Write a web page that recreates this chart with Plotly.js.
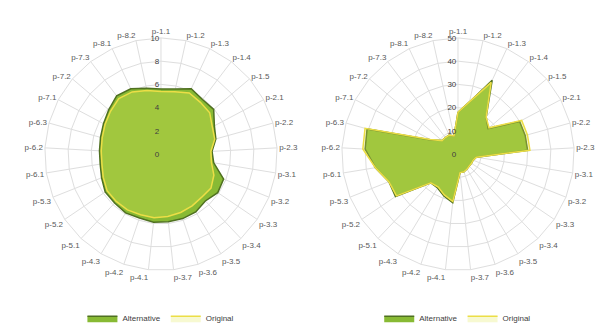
<!DOCTYPE html>
<html>
<head>
<meta charset="utf-8">
<script src="https://cdn.plot.ly/plotly-3.0.1.min.js"></script>
<style>html,body{margin:0;padding:0;background:#fff;}#chart{width:596px;height:333px;}</style>
</head>
<body>
<div id="chart"></div>
<script>
const categories = ['p-1.1','p-1.2','p-1.3','p-1.4','p-1.5','p-2.1','p-2.2','p-2.3','p-3.1','p-3.2','p-3.3','p-3.4','p-3.5','p-3.6','p-3.7','p-4.1','p-4.2','p-4.3','p-5.1','p-5.2','p-5.3','p-6.1','p-6.2','p-6.3','p-7.1','p-7.2','p-7.3','p-8.1','p-8.2'];

const leftAlternative = [5.6, 5.75, 6.2, 5.9, 5.95, 5.2, 4.9, 4.4, 4.6, 5.8, 5.9, 5.55, 5.8, 5.85, 5.85, 5.9, 5.8, 5.9, 5.8, 5.8, 5.5, 5.3, 5.3, 5.4, 5.6, 5.9, 6.3, 6.2, 5.8];
const leftOriginal    = [5.4, 5.5, 5.8, 5.6, 5.5, 5.0, 4.8, 4.3, 4.4, 4.9, 5.2, 5.1, 5.2, 5.3, 5.4, 5.5, 5.5, 5.6, 5.6, 5.6, 5.35, 5.15, 5.15, 5.25, 5.45, 5.7, 6.0, 5.9, 5.6];

const rightAlternative = [18, 23, 35, 20, 17, 30, 30, 30, 8, 7, 7, 7, 7.5, 8, 8, 21, 19, 17, 17, 32.5, 32, 36, 40, 40.6, 13, 9, 9, 9, 8];
const rightOriginal    = [18, 23, 34, 20, 17.5, 31, 31, 31, 8, 7, 7, 7, 7.5, 8, 8, 20.5, 18.5, 16.5, 17, 32, 32, 36, 41, 41.5, 13.5, 9, 9, 9, 8];

const seriesNames = ['Alternative', 'Original'];
const leftTicks = [0, 2, 4, 6, 8, 10];
const rightTicks = [0, 10, 20, 30, 40, 50];

function closed(arr){ return arr.concat([arr[0]]); }

const altStyle = {line:{color:'rgb(79,112,33)', width:1.5}, fillcolor:'rgb(136,186,52)'};
const origStyle = {line:{color:'rgb(236,222,70)', width:1.5}, fillcolor:'rgba(225,232,90,0.28)'};

function trace(vals, name, style, subplot, legend){
  return {type:'scatterpolar', mode:'lines', r:closed(vals), theta:closed(categories),
    name:name, subplot:subplot, legend:legend, fill:'toself',
    line:style.line, fillcolor:style.fillcolor, hoverinfo:'skip'};
}

const data = [
  trace(leftAlternative, seriesNames[0], altStyle, 'polar', 'legend'),
  trace(leftOriginal, seriesNames[1], origStyle, 'polar', 'legend'),
  trace(rightAlternative, seriesNames[0], altStyle, 'polar2', 'legend2'),
  trace(rightOriginal, seriesNames[1], origStyle, 'polar2', 'legend2')
];

const font = {family:'Liberation Sans, Arial, sans-serif', size:8, color:'#595959'};
function polar(xd, ticks){
  return {
    domain:{x:xd, y:[0.1757, 0.8844]},
    bgcolor:'rgba(0,0,0,0)',
    gridshape:'linear',
    angularaxis:{type:'category', categoryarray:categories, rotation:90, direction:'clockwise',
      gridcolor:'#dedede', linecolor:'#dedede', showline:true, ticks:'', tickfont:font},
    radialaxis:{range:[ticks[0], ticks[ticks.length-1]], tickvals:ticks, angle:90, tickangle:90,
      side:'counterclockwise', gridcolor:'#dedede', showline:false, ticks:'',
      tickfont:{family:font.family, size:8, color:'#404040'}}
  };
}
const legendBase = {orientation:'h', yanchor:'middle', y:0.03, xanchor:'center',
  font:{family:font.family, size:8, color:'#404040'}, itemwidth:30, bgcolor:'rgba(0,0,0,0)'};

const layout = {
  width:596, height:333, margin:{l:0,r:0,t:0,b:0},
  paper_bgcolor:'#fff', font:font, showlegend:true,
  polar:polar([0.0721, 0.4681], leftTicks),
  polar2:polar([0.5705, 0.9664], rightTicks),
  legend:Object.assign({}, legendBase, {x:0.27}),
  legend2:Object.assign({}, legendBase, {x:0.768})
};

Plotly.newPlot('chart', data, layout, {staticPlot:true});
</script>
</body>
</html>
